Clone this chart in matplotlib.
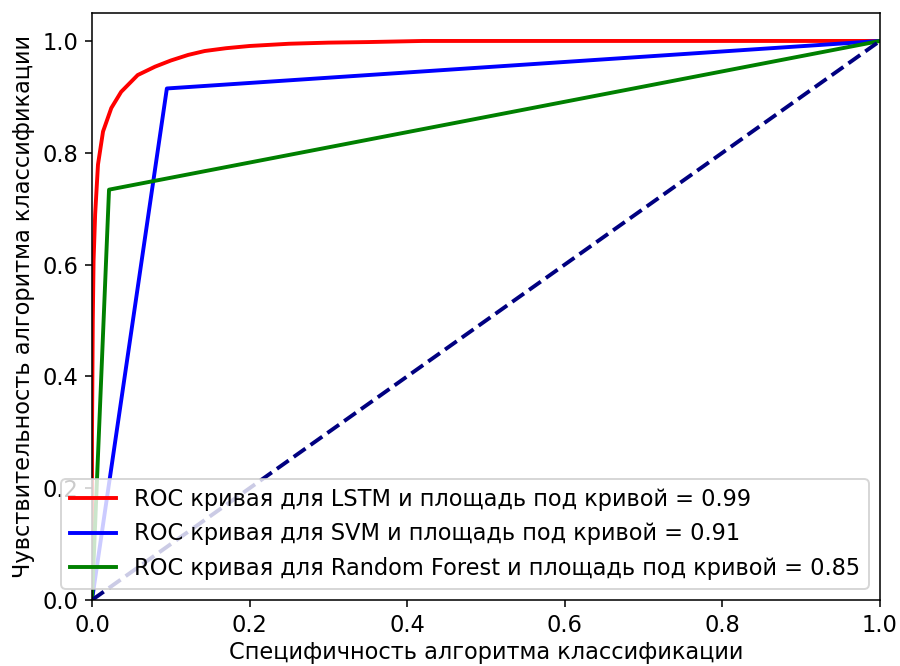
import matplotlib
matplotlib.use("Agg")
import matplotlib.pyplot as plt

# LSTM ROC curve
lstm_fpr = [0.0, 0.0, 0.001, 0.002, 0.004, 0.0076, 0.014, 0.0245, 0.037, 0.058, 0.080,
            0.100, 0.122, 0.143, 0.170, 0.200, 0.250, 0.300, 0.350, 0.420, 1.0]
lstm_tpr = [0.0, 0.30, 0.50, 0.607, 0.69, 0.779, 0.838, 0.880, 0.909, 0.939, 0.954,
            0.965, 0.975, 0.982, 0.987, 0.991, 0.995, 0.997, 0.998, 1.0, 1.0]
# SVM ROC curve
svm_fpr = [0.0, 0.095, 1.0]
svm_tpr = [0.0, 0.915, 1.0]
# Random Forest ROC curve
rf_fpr = [0.0, 0.0216, 1.0]
rf_tpr = [0.0, 0.734, 1.0]
# chance line
diag = [0.0, 1.0]

labels = ["ROC кривая для LSTM и площадь под кривой = 0.99",
          "ROC кривая для SVM и площадь под кривой = 0.91",
          "ROC кривая для Random Forest и площадь под кривой = 0.85"]

plt.rcParams["font.size"] = 11.6

fig = plt.figure(figsize=(900/140, 666/140), dpi=140)
ax = fig.add_axes([92/900, 66/666, 788/900, 587/666])
ax.plot(lstm_fpr, lstm_tpr, color="red", lw=2, label=labels[0])
ax.plot(svm_fpr, svm_tpr, color="blue", lw=2, label=labels[1])
ax.plot(rf_fpr, rf_tpr, color="green", lw=2, label=labels[2])
ax.plot(diag, diag, color="navy", lw=2, linestyle="--")
ax.set_xlim([0.0, 1.0])
ax.set_ylim([0.0, 1.05])
ax.set_xlabel("Специфичность алгоритма классификации", labelpad=2.5)
ax.set_ylabel("Чувствительность алгоритма классификации")
ax.legend(loc="lower right")
fig.savefig("out.png", dpi=140)
